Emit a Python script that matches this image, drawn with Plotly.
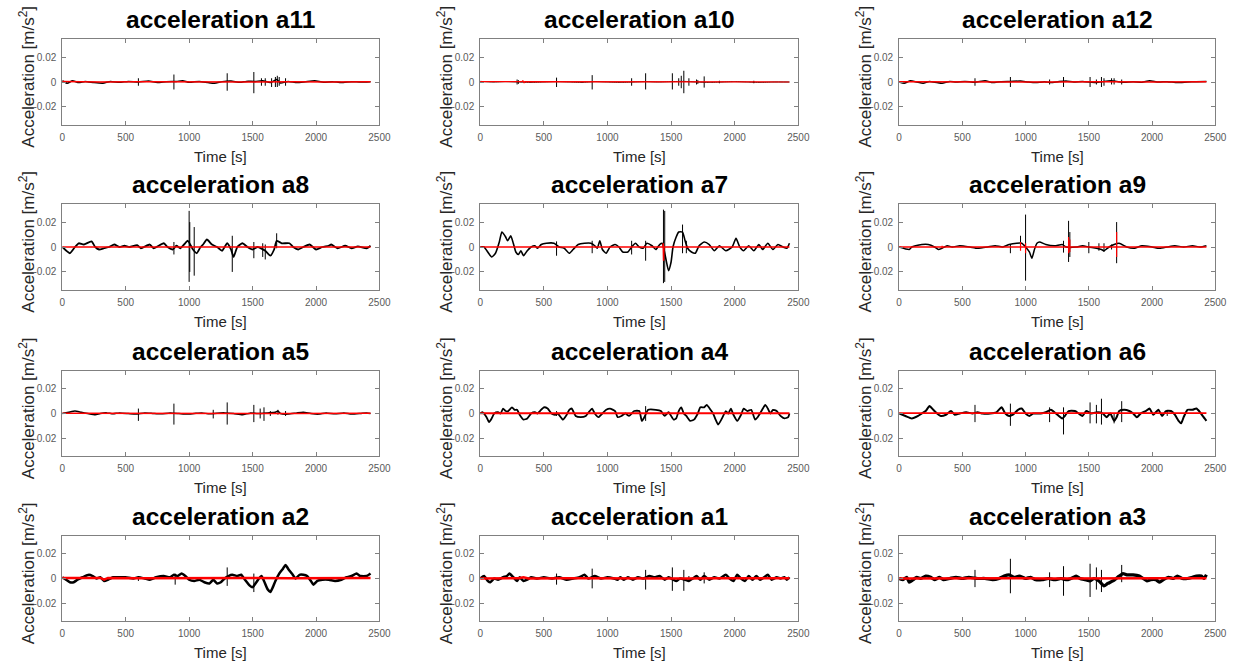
import plotly.graph_objects as go

# ---------------- data (values in m/s^2, times in s) ----------------
TITLES = ["acceleration a11", "acceleration a10", "acceleration a12",
          "acceleration a8", "acceleration a7", "acceleration a9",
          "acceleration a5", "acceleration a4", "acceleration a6",
          "acceleration a2", "acceleration a1", "acceleration a3"]
X_TICKS = [0, 500, 1000, 1500, 2000, 2500]
X_TICK_TEXT = ["0", "500", "1000", "1500", "2000", "2500"]
Y_TICKS = [-0.02, 0, 0.02]
Y_TICK_TEXT = ["-0.02", "0", "0.02"]

# a11
a11_t = [0,40,80,130,180,250,320,380,450,520,600,680,750,820,900,950,1000,1080,1150,1200,1260,1330,1400,1450,1520,1580,1640,1690,1720,1780,1850,1920,1990,2060,2130,2200,2280,2350,2430]
a11_v = [0.001,-0.001,0.001,-0.0005,0.0005,-0.0005,-0.001,0.0005,-0.0003,0.0005,0.0,0.0008,-0.0005,0.0003,0.0005,0.001,-0.0003,0.0005,-0.0005,-0.001,0.0003,0.0008,-0.0003,0.0005,0.0005,0.001,-0.0005,0.002,-0.0008,0.0005,-0.0005,0.0003,0.001,-0.0003,0.0003,-0.0005,0.0003,0.0,0.0003]
a11_spk_t = [600,880,1300,1510,1570,1600,1650,1680,1695,1710,1760]
a11_spk_hi = [0.003,0.006,0.007,0.008,0.003,0.003,0.003,0.004,0.005,0.004,0.003]
a11_spk_lo = [-0.003,-0.006,-0.007,-0.009,-0.003,-0.003,-0.004,-0.004,-0.004,-0.003,-0.003]
a11_red_t = [0,300,600,900,1200,1500,1800,2100,2430]
a11_red_v = [0.0005,0.0,0.0003,0.0,0.0003,0.0,0.0003,0.0,0.0003]

# a10
a10_t = [0,100,200,300,400,500,600,700,800,900,1000,1100,1200,1300,1400,1500,1600,1700,1800,1900,2000,2100,2200,2300,2430]
a10_v = [0.0005,0.0,0.0003,0.0,-0.0003,0.0,0.0003,0.0,-0.0003,0.0003,0.0,-0.0003,0.0,0.0003,0.0,0.0003,0.0005,0.0,-0.0003,0.0,0.0003,0.0,-0.0003,0.0,0.0]
a10_spk_t = [290,300,600,880,1190,1300,1510,1560,1580,1600,1640,1700,1710,1760,1880,2150]
a10_spk_hi = [0.002,0.0015,0.0035,0.0055,0.003,0.007,0.007,0.003,0.005,0.009,0.003,0.002,0.0015,0.0045,0.001,0.001]
a10_spk_lo = [-0.002,-0.0015,-0.004,-0.006,-0.003,-0.006,-0.006,-0.003,-0.005,-0.009,-0.003,-0.002,-0.0015,-0.0045,-0.001,-0.001]
a10_red_t = [0,330,335,345,350,1200,2430]
a10_red_v = [0.0003,0.0003,0.0012,-0.0008,0.0003,0.0,0.0]

# a12
a12_t = [0,40,90,140,190,240,300,340,400,450,520,600,680,740,800,880,960,1020,1080,1150,1200,1260,1320,1380,1450,1510,1560,1620,1680,1720,1780,1850,1920,1980,2050,2120,2200,2280,2350,2430]
a12_v = [0.0,-0.001,0.001,0.0,-0.001,0.0005,-0.0005,-0.001,0.0005,0.0,0.0005,-0.0003,0.001,-0.0005,0.0003,0.0005,0.0008,0.0,-0.0005,0.0003,-0.0005,0.0003,0.0008,0.0,0.0005,0.0,-0.0005,0.0005,0.001,0.0005,-0.0003,0.0003,-0.0003,0.001,0.0,0.0003,-0.0005,0.0,0.0003,0.0005]
a12_spk_t = [600,880,1190,1300,1510,1560,1600,1620,1680,1700,1760]
a12_spk_hi = [0.003,0.004,0.002,0.004,0.004,0.002,0.004,0.003,0.003,0.003,0.002]
a12_spk_lo = [-0.003,-0.004,-0.002,-0.004,-0.004,-0.002,-0.004,-0.003,-0.002,-0.002,-0.002]
a12_red_t = [0,400,800,1200,1600,2000,2430]
a12_red_v = [0.0003,0.0,0.0003,0.0,0.0003,0.0,0.0003]

# a8
a8_t = [0,60,100,130,170,230,260,290,330,370,410,450,490,530,590,620,690,720,800,830,870,900,930,960,990,1030,1060,1090,1110,1140,1180,1220,1260,1300,1330,1350,1380,1420,1460,1500,1540,1600,1640,1670,1690,1730,1790,1820,1860,1900,1950,2000,2050,2100,2120,2170,2230,2280,2330,2400,2430]
a8_v = [0.0,-0.005,0.0,0.003,0.002,0.0045,0.0,-0.002,-0.001,0.0,0.002,0.0,0.001,0.0,0.0015,-0.001,0.002,-0.001,0.003,0.0,-0.002,0.001,-0.001,0.002,0.005,-0.002,-0.005,0.0,0.002,0.006,0.002,0.0,-0.003,0.003,-0.002,-0.008,0.0,0.003,0.0,-0.002,0.0,-0.003,-0.007,-0.002,0.005,0.003,0.003,0.0,-0.002,0.0,0.002,-0.002,0.0,0.001,0.002,-0.001,0.001,-0.001,0.0005,-0.001,0.001]
a8_spk_t = [880,1000,1005,1040,1340,1510,1580,1600,1690]
a8_spk_hi = [0.004,0.029,0.02,0.016,0.009,0.004,0.003,0.002,0.011]
a8_spk_lo = [-0.006,-0.028,-0.02,-0.023,-0.020,-0.009,-0.008,-0.010,-0.001]
a8_red_t = [0,1000,2430]
a8_red_v = [0.0,0.0,0.0]

# a7
a7_t = [0,30,90,120,150,170,200,215,240,260,280,300,320,340,370,400,430,450,480,520,580,620,660,700,730,770,820,870,900,920,940,960,990,1020,1060,1090,1120,1160,1190,1220,1250,1280,1310,1350,1380,1410,1430,1440,1460,1480,1500,1515,1540,1560,1590,1610,1630,1660,1690,1720,1760,1800,1840,1880,1930,1980,2010,2040,2070,2110,2150,2190,2220,2260,2300,2340,2380,2410,2430]
a7_v = [0.0,0.0,-0.008,-0.005,0.004,0.012,0.008,0.005,0.009,0.003,-0.004,-0.006,-0.003,-0.007,-0.003,0.0,0.001,-0.001,0.002,0.003,0.003,0.0,-0.001,-0.005,-0.002,0.002,0.003,0.003,0.001,-0.001,0.005,-0.002,-0.005,0.0,0.002,0.0,-0.004,-0.004,0.0,0.003,0.0,-0.001,0.003,0.001,-0.002,0.002,0.003,0.0,-0.010,-0.019,-0.012,0.0,0.008,0.012,0.012,0.005,-0.001,-0.004,-0.005,0.001,0.004,0.002,-0.003,0.001,-0.003,0.0,0.007,0.0,-0.003,0.001,-0.003,0.002,-0.002,0.003,-0.002,0.002,0.0,-0.001,0.003]
a7_spk_t = [600,880,1190,1300,1440,1450,1590,1620]
a7_spk_hi = [0.0045,0.005,0.005,0.005,0.030,0.029,0.018,0.005]
a7_spk_lo = [-0.007,-0.005,-0.006,-0.011,-0.029,-0.028,-0.005,-0.005]
a7_red_t = [0,1436,1438,1441,1444,2430]
a7_red_v = [0.0,0.0,0.003,-0.011,0.0,0.0]

# a9
a9_t = [0,80,100,130,180,230,280,310,340,380,420,480,560,620,700,760,820,870,930,970,1000,1030,1050,1070,1090,1110,1160,1230,1290,1320,1400,1450,1500,1560,1600,1620,1660,1700,1740,1800,1860,1920,2000,2060,2120,2180,2250,2320,2380,2430]
a9_v = [0.0,-0.002,0.0,0.001,0.002,0.002,0.0,-0.002,-0.001,0.001,0.0,0.001,0.0,-0.001,0.0,0.001,0.0,0.002,0.003,0.003,0.0,-0.004,-0.009,-0.002,0.003,0.004,0.002,0.001,0.002,0.0,0.0,0.001,0.0,-0.001,-0.002,-0.003,0.0,0.002,0.003,0.0,-0.001,0.001,0.0,-0.001,0.0,0.001,0.0,0.001,0.0,0.001]
a9_spk_t = [880,960,1000,1300,1340,1350,1500,1580,1620,1680,1720]
a9_spk_hi = [0.002,0.009,0.026,0.005,0.021,0.012,0.004,0.003,0.003,0.002,0.020]
a9_spk_lo = [-0.005,-0.001,-0.027,-0.0045,-0.012,-0.008,-0.005,-0.003,-0.004,-0.002,-0.013]
a9_red_t = [0,1200,2430]
a9_red_v = [0.0,0.0,0.0]
a9_rspk_t = [340,960,1000,1340,1350,1720]
a9_rspk_hi = [0.001,0.004,0.003,0.008,0.006,0.012]
a9_rspk_lo = [-0.001,-0.003,-0.005,-0.005,-0.004,-0.008]

# a5
a5_t = [0,50,100,150,200,260,300,350,400,450,520,580,650,720,780,850,920,980,1040,1100,1160,1220,1280,1350,1420,1480,1540,1620,1680,1700,1720,1780,1850,1900,1960,2020,2080,2150,2220,2280,2350,2400,2430]
a5_v = [0.0,0.001,0.002,0.001,0.0,-0.001,0.0,0.0005,-0.0003,0.0005,0.0,-0.0005,0.0005,0.0,-0.0003,0.0005,0.0,-0.0005,0.0,0.0005,-0.0003,0.0003,0.0005,0.0,-0.001,0.0003,0.0,0.0005,0.001,0.002,0.0,-0.0005,0.0005,0.001,0.0,-0.0005,0.0005,-0.0003,0.0005,-0.0005,0.0,0.0005,0.0]
a5_spk_t = [600,880,1190,1300,1510,1560,1590,1640,1700,1760]
a5_spk_hi = [0.004,0.008,0.003,0.009,0.007,0.004,0.005,0.002,0.003,0.002]
a5_spk_lo = [-0.006,-0.009,-0.004,-0.009,-0.007,-0.004,-0.006,-0.002,-0.001,-0.002]
a5_red_t = [0,600,1200,1800,2430]
a5_red_v = [0.0003,0.0,0.0003,0.0,0.0003]

# a4
a4_t = [0,20,50,70,90,110,140,160,180,200,220,250,270,290,310,340,370,400,430,450,470,500,530,560,590,610,650,680,700,720,750,790,830,860,880,900,930,960,990,1020,1060,1080,1110,1140,1170,1210,1250,1270,1290,1320,1380,1420,1450,1480,1520,1540,1560,1580,1600,1620,1650,1680,1710,1730,1760,1780,1810,1830,1850,1870,1900,1930,1950,1970,1990,2020,2050,2070,2100,2130,2160,2180,2210,2240,2260,2280,2300,2330,2360,2390,2420,2430]
a4_v = [0.0,0.001,-0.003,-0.007,-0.004,0.0,0.001,0.0,0.004,0.002,0.002,0.005,0.003,0.003,-0.001,-0.005,-0.004,0.0,0.001,0.0,0.002,0.005,0.004,0.0,-0.001,0.0,-0.005,-0.001,0.003,0.004,-0.002,-0.003,-0.002,0.002,0.004,0.0,-0.003,0.0,0.003,0.004,0.002,-0.003,-0.002,0.0,-0.002,0.002,0.002,-0.006,-0.003,0.003,0.003,0.002,-0.002,0.001,-0.005,-0.004,0.002,0.005,0.0,-0.002,-0.006,-0.005,0.0,0.005,0.005,0.007,0.003,0.0,-0.005,-0.009,-0.004,0.002,0.0,0.004,-0.001,-0.006,-0.001,0.004,0.002,0.003,-0.005,-0.003,0.002,0.007,0.004,0.0,0.003,0.002,-0.002,-0.004,-0.003,0.0]
a4_spk_t = [600,1300]
a4_spk_hi = [0.002,0.006]
a4_spk_lo = [-0.002,-0.006]
a4_red_t = [0,1200,2430]
a4_red_v = [0.0003,0.0,0.0003]

# a6
a6_t = [0,50,100,150,180,210,240,270,300,330,370,410,440,480,530,580,620,660,720,770,810,840,870,900,940,970,1000,1030,1060,1120,1160,1200,1240,1290,1310,1340,1390,1420,1450,1480,1520,1570,1610,1640,1670,1700,1720,1740,1780,1820,1850,1880,1910,1950,1980,2010,2050,2080,2110,2150,2180,2210,2230,2250,2280,2320,2350,2380,2400,2430]
a6_v = [0.0,-0.002,-0.004,-0.002,0.0,0.002,0.006,0.003,0.0,-0.002,-0.001,0.002,-0.001,0.0,0.001,0.0,0.001,0.0,0.0,0.001,0.005,0.0,-0.002,-0.001,0.003,0.004,0.0,-0.002,0.0,0.0,0.001,0.003,0.0,-0.004,-0.002,0.002,0.002,0.0,-0.002,0.002,0.0,0.001,0.0,-0.003,0.0,-0.006,-0.003,0.002,0.003,0.002,0.0,-0.003,0.0,0.002,0.004,-0.001,0.003,-0.002,0.002,0.002,-0.001,-0.006,-0.008,-0.003,0.003,0.003,0.004,0.001,-0.002,-0.006]
a6_spk_t = [600,880,1190,1300,1510,1560,1600,1700,1760,2120]
a6_spk_hi = [0.007,0.008,0.005,0.005,0.009,0.007,0.012,0.0,0.010,0.003]
a6_spk_lo = [-0.007,-0.010,-0.007,-0.017,-0.008,-0.008,-0.009,-0.008,-0.007,-0.002]
a6_red_t = [0,1200,2430]
a6_red_v = [0.0003,0.0,0.0003]

# a2
a2_t = [0,30,60,90,120,160,210,240,270,300,330,360,400,450,500,560,600,650,690,740,800,850,880,910,940,970,1000,1040,1080,1120,1160,1190,1220,1250,1280,1310,1340,1380,1410,1440,1480,1500,1530,1550,1570,1590,1620,1640,1660,1680,1710,1740,1760,1780,1810,1840,1870,1900,1930,1960,1980,2010,2050,2100,2150,2200,2240,2280,2320,2350,2400,2430]
a2_v = [0.001,-0.001,-0.003,-0.003,-0.001,0.001,0.003,0.002,0.0,0.001,-0.002,-0.001,0.001,0.001,0.001,0.0,0.001,0.0,-0.001,0.001,0.002,0.001,0.003,0.002,0.004,0.002,-0.001,-0.002,-0.001,-0.003,-0.004,-0.001,-0.004,-0.003,0.0,0.002,0.003,0.002,0.003,-0.001,-0.006,-0.007,-0.003,0.0,0.002,-0.002,-0.009,-0.011,-0.007,-0.002,0.004,0.008,0.011,0.008,0.004,0.0,0.003,0.003,0.002,-0.002,-0.005,-0.002,-0.001,-0.001,-0.002,-0.001,0.001,0.002,0.004,0.002,0.002,0.004]
a2_spk_t = [600,890,1300,1510]
a2_spk_hi = [0.002,0.004,0.009,0.004]
a2_spk_lo = [-0.002,-0.005,-0.006,-0.011]
a2_red_t = [0,300,330,360,600,900,1200,1500,1800,2100,2430]
a2_red_v = [0.0005,0.0005,-0.001,0.0005,0.0003,0.0005,0.0003,0.0005,0.0003,0.0003,0.0005]

# a1
a1_t = [0,30,60,80,110,140,180,210,230,260,290,310,340,370,400,450,500,560,620,680,730,780,820,850,900,950,1000,1050,1080,1100,1130,1160,1200,1240,1280,1330,1370,1410,1450,1480,1540,1570,1610,1640,1670,1700,1730,1760,1800,1840,1880,1930,1960,1990,2020,2050,2080,2110,2140,2170,2200,2230,2260,2290,2330,2360,2390,2410,2430]
a1_v = [0.0,0.002,-0.002,-0.003,0.0,-0.001,0.001,0.002,0.004,0.001,-0.002,0.001,-0.002,-0.001,0.001,0.0,0.001,0.0,0.001,-0.001,0.0,0.001,0.003,0.0,0.002,0.0,0.001,0.0,-0.001,0.001,-0.001,0.001,-0.001,0.001,0.0,0.002,0.001,0.002,-0.001,0.001,-0.002,0.0,-0.001,-0.002,0.0,0.002,-0.001,0.002,-0.001,0.001,0.0,0.003,0.0,-0.002,0.003,0.0,-0.002,0.002,-0.001,0.002,-0.001,0.001,0.003,-0.001,0.001,0.0,0.001,-0.001,0.001]
a1_spk_t = [600,880,1300,1510,1600,1640,1760]
a1_spk_hi = [0.004,0.008,0.007,0.009,0.007,0.002,0.005]
a1_spk_lo = [-0.005,-0.008,-0.009,-0.010,-0.010,-0.002,-0.004]
a1_red_t = [0,300,340,380,700,1000,1300,1600,1900,2200,2430]
a1_red_v = [0.0,0.0003,0.001,0.0,0.0003,0.0,0.0003,0.0,0.0003,0.0,0.0003]

# a3
a3_t = [0,30,60,80,110,140,170,210,250,280,320,350,400,450,500,550,620,680,740,790,830,870,910,950,1000,1040,1080,1130,1180,1230,1280,1330,1380,1400,1430,1470,1510,1540,1580,1620,1650,1690,1740,1770,1800,1850,1900,1930,1960,1990,2030,2060,2090,2130,2170,2200,2240,2280,2320,2350,2390,2410,2430]
a3_v = [0.0,-0.001,0.001,-0.003,-0.001,0.001,0.0,0.002,0.001,-0.001,0.001,-0.001,0.0,0.001,0.0,0.001,0.0,0.0,-0.001,0.0,0.002,0.003,0.001,0.002,0.0,0.001,-0.001,-0.001,0.0,-0.001,0.0,-0.001,0.001,0.002,0.0,-0.001,-0.002,0.0,-0.002,-0.006,-0.004,-0.002,0.002,0.004,0.003,0.003,0.002,0.0,-0.002,-0.001,-0.001,-0.003,-0.001,0.001,0.0,0.002,0.0,0.0,0.001,0.002,0.002,0.0,0.003]
a3_spk_t = [600,880,1190,1300,1510,1560,1600,1760]
a3_spk_hi = [0.007,0.016,0.005,0.010,0.012,0.009,0.007,0.011]
a3_spk_lo = [-0.007,-0.012,-0.007,-0.014,-0.015,-0.009,-0.011,-0.003]
a3_red_t = [0,300,600,900,1200,1500,1800,2100,2430]
a3_red_v = [0.0,0.0003,0.0,0.0003,0.0,0.0003,0.0,0.0003,0.0003]

# ---------------- layout / style ----------------
W, H = 1250, 662
COL_X = [(60, 381), (483, 805), (907, 1227)]          # window pixels
ROW_Y = [(39, 125), (204, 290), (371, 456), (536, 621)]
FONT = "Liberation Sans, Arial, Helvetica, sans-serif"
AX_COLOR = "#808080"

panels = [
    (a11_t, a11_v, a11_spk_t, a11_spk_hi, a11_spk_lo, a11_red_t, a11_red_v, None),
    (a10_t, a10_v, a10_spk_t, a10_spk_hi, a10_spk_lo, a10_red_t, a10_red_v, None),
    (a12_t, a12_v, a12_spk_t, a12_spk_hi, a12_spk_lo, a12_red_t, a12_red_v, None),
    (a8_t, a8_v, a8_spk_t, a8_spk_hi, a8_spk_lo, a8_red_t, a8_red_v, None),
    (a7_t, a7_v, a7_spk_t, a7_spk_hi, a7_spk_lo, a7_red_t, a7_red_v, None),
    (a9_t, a9_v, a9_spk_t, a9_spk_hi, a9_spk_lo, a9_red_t, a9_red_v, (a9_rspk_t, a9_rspk_hi, a9_rspk_lo)),
    (a5_t, a5_v, a5_spk_t, a5_spk_hi, a5_spk_lo, a5_red_t, a5_red_v, None),
    (a4_t, a4_v, a4_spk_t, a4_spk_hi, a4_spk_lo, a4_red_t, a4_red_v, None),
    (a6_t, a6_v, a6_spk_t, a6_spk_hi, a6_spk_lo, a6_red_t, a6_red_v, None),
    (a2_t, a2_v, a2_spk_t, a2_spk_hi, a2_spk_lo, a2_red_t, a2_red_v, None),
    (a1_t, a1_v, a1_spk_t, a1_spk_hi, a1_spk_lo, a1_red_t, a1_red_v, None),
    (a3_t, a3_v, a3_spk_t, a3_spk_hi, a3_spk_lo, a3_red_t, a3_red_v, None),
]
BLACK_W = [1.5, 1.0, 1.5, 1.8, 1.6, 1.5, 1.5, 1.8, 2.0, 2.5, 2.5, 3.2]
RED_W = [1.5, 1.2, 1.5, 1.5, 1.5, 1.5, 1.5, 2.0, 1.8, 2.5, 2.5, 2.5]


def spike_xy(ts, hi, lo):
    xs, ys = [], []
    for t, h, l in zip(ts, hi, lo):
        xs += [t, t, None]
        ys += [h, l, None]
    return xs, ys


def px(x):
    return x / W


def py(y):
    return 1 - y / H


fig = go.Figure()
annotations = []
for i, (t, v, st, sh, sl, rt, rv, rsp) in enumerate(panels):
    assert len(t) == len(v), (i, len(t), len(v))
    assert len(st) == len(sh) == len(sl), i
    assert len(rt) == len(rv), i
    r, c = divmod(i, 3)
    n = "" if i == 0 else str(i + 1)
    xa, ya = "x" + n, "y" + n
    x0, x1 = COL_X[c]
    yt, yb = ROW_Y[r]
    common = dict(showgrid=False, zeroline=False, showline=True, mirror="ticks",
                  linecolor=AX_COLOR, linewidth=1, ticks="inside", ticklen=4,
                  tickcolor=AX_COLOR, tickwidth=1, ticklabelstandoff=3,
                  tickfont=dict(family=FONT, size=10, color="#5a5a5a"))
    fig.update_layout(**{
        ("xaxis" + n): dict(domain=[px(x0), px(x1)], anchor=ya, range=[0, 2500],
                            tickmode="array", tickvals=X_TICKS, ticktext=X_TICK_TEXT, **common),
        ("yaxis" + n): dict(domain=[py(yb), py(yt)], anchor=xa, range=[-0.0345, 0.0345],
                            tickmode="array", tickvals=Y_TICKS, ticktext=Y_TICK_TEXT, **common),
    })
    fig.add_trace(go.Scatter(x=t, y=v, mode="lines", xaxis=xa, yaxis=ya,
                             line=dict(color="black", width=BLACK_W[i], shape="spline", smoothing=0.5),
                             showlegend=False, hoverinfo="skip"))
    sx, sy = spike_xy(st, sh, sl)
    fig.add_trace(go.Scatter(x=sx, y=sy, mode="lines", xaxis=xa, yaxis=ya,
                             line=dict(color="black", width=1), showlegend=False,
                             hoverinfo="skip", connectgaps=False))
    fig.add_trace(go.Scatter(x=rt, y=rv, mode="lines", xaxis=xa, yaxis=ya,
                             line=dict(color="red", width=RED_W[i]), showlegend=False,
                             hoverinfo="skip"))
    if rsp is not None:
        rx, ry = spike_xy(*rsp)
        fig.add_trace(go.Scatter(x=rx, y=ry, mode="lines", xaxis=xa, yaxis=ya,
                                 line=dict(color="red", width=1.2), showlegend=False,
                                 hoverinfo="skip", connectgaps=False))
    cx = (x0 + x1) / 2
    annotations.append(dict(text="<b>" + TITLES[i] + "</b>", xref="paper", yref="paper",
                            x=px(cx), y=py(yt - 20), xanchor="center", yanchor="middle",
                            showarrow=False, font=dict(family=FONT, size=24.5, color="black")))
    annotations.append(dict(text="Time [s]", xref="paper", yref="paper",
                            x=px(cx), y=py(yb + 31), xanchor="center", yanchor="middle",
                            showarrow=False, font=dict(family=FONT, size=15, color="#262626")))
    annotations.append(dict(text="Acceleration [m/s<sup>2</sup>]", xref="paper", yref="paper",
                            x=px(x0 - 36), y=py((yt + yb) / 2 - 5),
                            xanchor="center", yanchor="middle", textangle=-90,
                            showarrow=False, font=dict(family=FONT, size=17, color="#262626")))

fig.update_layout(width=W, height=H, margin=dict(l=0, r=0, t=0, b=0),
                  paper_bgcolor="white", plot_bgcolor="white",
                  annotations=annotations, showlegend=False)
# remove the default 8px page margin so the figure fills the window exactly
fig.write_html("out.html", config={"displayModeBar": False},
               post_script="document.body.style.margin='0';")
